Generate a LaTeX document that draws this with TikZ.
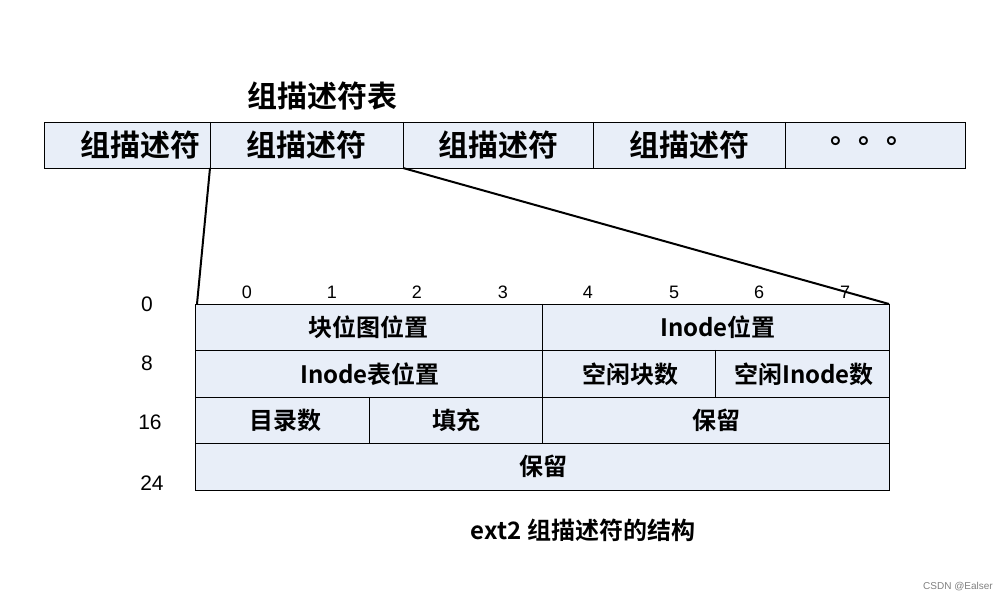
\documentclass[tikz,border=0pt]{standalone}
\usepackage{fontspec}
\newfontfamily\cjk{Noto Sans CJK SC Bold}
\setmainfont{Liberation Sans}
\definecolor{cellbg}{HTML}{E8EEF8}
\begin{document}
\begin{tikzpicture}[x=1pt,y=-1pt,
  cell/.style={draw=black,line width=0.6pt,fill=cellbg},
  big/.style={font=\cjk\fontsize{30}{33}\selectfont},
  mid/.style={font=\cjk\fontsize{24}{27}\selectfont},
  num/.style={font=\fontsize{18}{20}\selectfont}]
\useasboundingbox (0,0) rectangle (1005,601);
% top bar
\draw[cell] (44,122) rectangle (965,168);
\foreach \x in {210,403,593,785} \draw[line width=0.6pt] (\x,122) -- (\x,168);
\node[big] (title) at (322,96) {组描述符表};
\node[big] (g1) at (140,145) {组描述符};
\node[big] (g2) at (306,145) {组描述符};
\node[big] (g3) at (498,145) {组描述符};
\node[big] (g4) at (689,145) {组描述符};
\node[font=\cjk\fontsize{28}{30}\selectfont] (dots) at (872,141) {。。。};
\coordinate (a1) at (210,168); \coordinate (a2) at (403,168);
\coordinate (b1) at (197,304); \coordinate (b2) at (889,304);
\draw[line width=2pt] (a1) -- (b1);
\draw[line width=2pt] (a2) -- (b2);
% table
\draw[cell] (195,304) rectangle (889,490);
\foreach \y in {350,397,443} \draw[line width=0.6pt] (195,\y) -- (889,\y);
\draw[line width=0.6pt] (542,304) -- (542,443);
\draw[line width=0.6pt] (715,350) -- (715,397);
\draw[line width=0.6pt] (369,397) -- (369,443);
\node[mid] (c1) at (368,327) {块位图位置};
\node[mid] (c2) at (718,327) {Inode位置};
\node[mid] (c3) at (370,374) {Inode表位置};
\node[mid] (c4) at (630,374) {空闲块数};
\node[mid] (c5) at (804,374) {空闲Inode数};
\node[mid] (c6) at (285,420) {目录数};
\node[mid] (c7) at (456,420) {填充};
\node[mid] (c8) at (716,420) {保留};
\node[mid] (c9) at (543,466) {保留};
\foreach \i/\x in {0/247,1/332,2/417,3/503,4/588,5/674,6/759,7/845}
  \node[num] (n\i) at (\x,292) {\i};
\node[num,font=\fontsize{21}{24}\selectfont] (r0) at (147,304) {0};
\node[num,font=\fontsize{21}{24}\selectfont] (r8) at (147,363) {8};
\node[num,font=\fontsize{21}{24}\selectfont] (r16) at (150,422) {16};
\node[num,font=\fontsize{21}{24}\selectfont] (r24) at (152,483) {24};
\node[font=\cjk\fontsize{24}{27}\selectfont] (cap) at (583,530) {ext2 组描述符的结构};
\node[font=\fontsize{10}{11}\selectfont,text=gray] (wm) at (958,587) {CSDN @Ealser};
\end{tikzpicture}
\end{document}
